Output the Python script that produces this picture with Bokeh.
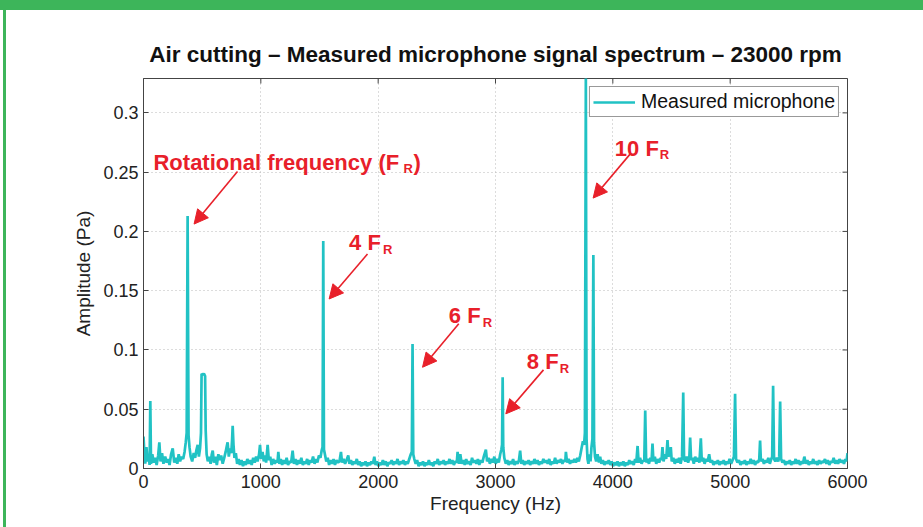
import math
from bokeh.plotting import figure
from bokeh.models import (Range1d, FixedTicker, Legend, LegendItem, Label,
                          Arrow, NormalHead, Div)
from bokeh.layouts import column, row
from bokeh.embed import file_html
from bokeh.resources import INLINE

# ---------------- data ----------------
freq_hz = [
    0, 8, 15, 25, 35, 45, 52, 58, 64, 75, 88, 100, 112, 125, 135, 145, 158, 170, 185, 198,
    210, 222, 235, 249, 262, 275, 288, 300, 312, 325, 338, 350, 360, 368, 376, 384, 392, 402, 415, 428,
    440, 452, 462, 472, 482, 490, 495, 505, 515, 525, 530, 538, 548, 560, 572, 582, 590, 600, 612, 625,
    638, 650, 662, 675, 688, 700, 710, 717, 727, 738, 748, 755, 760, 767, 775, 787, 798, 810, 822, 835,
    848, 860, 872, 885, 898, 910, 922, 935, 948, 960, 972, 985, 993, 1002, 1015, 1025, 1035, 1045, 1058, 1068,
    1080, 1092, 1105, 1118, 1130, 1142, 1149, 1158, 1170, 1182, 1195, 1208, 1220, 1232, 1245, 1258, 1271, 1282, 1295, 1308,
    1320, 1332, 1345, 1358, 1370, 1382, 1395, 1408, 1420, 1432, 1445, 1458, 1470, 1482, 1495, 1508, 1518, 1526, 1532, 1538,
    1546, 1558, 1570, 1582, 1595, 1608, 1620, 1632, 1645, 1658, 1670, 1683, 1692, 1705, 1718, 1730, 1745, 1755, 1768, 1780,
    1792, 1805, 1818, 1830, 1842, 1855, 1868, 1880, 1892, 1905, 1918, 1930, 1942, 1955, 1967, 1978, 1990, 2002, 2015, 2028,
    2040, 2052, 2065, 2078, 2090, 2102, 2115, 2128, 2140, 2152, 2165, 2178, 2190, 2202, 2215, 2228, 2240, 2252, 2265, 2278,
    2287, 2293, 2299, 2308, 2320, 2332, 2345, 2358, 2370, 2382, 2395, 2408, 2420, 2432, 2445, 2458, 2470, 2482, 2495, 2508,
    2520, 2532, 2545, 2558, 2570, 2582, 2595, 2608, 2620, 2632, 2645, 2658, 2670, 2677, 2688, 2700, 2712, 2725, 2738, 2750,
    2762, 2775, 2788, 2800, 2812, 2825, 2838, 2850, 2862, 2875, 2888, 2900, 2918, 2928, 2940, 2952, 2965, 2978, 2990, 3002,
    3015, 3028, 3040, 3050, 3056, 3061, 3066, 3075, 3088, 3100, 3112, 3125, 3138, 3150, 3162, 3175, 3188, 3200, 3210, 3220,
    3232, 3245, 3258, 3270, 3282, 3295, 3308, 3320, 3332, 3345, 3358, 3370, 3382, 3395, 3408, 3420, 3432, 3445, 3458, 3470,
    3482, 3495, 3508, 3520, 3532, 3545, 3558, 3570, 3582, 3595, 3600, 3610, 3622, 3635, 3648, 3660, 3672, 3685, 3698, 3710,
    3722, 3735, 3745, 3755, 3762, 3770, 3776, 3784, 3792, 3800, 3810, 3818, 3826, 3834, 3840, 3848, 3858, 3870, 3882, 3892,
    3902, 3915, 3928, 3940, 3952, 3965, 3978, 3990, 4002, 4015, 4028, 4040, 4052, 4065, 4078, 4090, 4102, 4115, 4128, 4140,
    4152, 4165, 4178, 4190, 4200, 4211, 4220, 4232, 4245, 4258, 4268, 4276, 4284, 4295, 4308, 4320, 4330, 4338, 4346, 4358,
    4370, 4382, 4395, 4408, 4415, 4423, 4432, 4445, 4455, 4466, 4474, 4482, 4494, 4502, 4515, 4528, 4540, 4552, 4565, 4578,
    4590, 4600, 4607, 4618, 4630, 4642, 4652, 4659, 4667, 4678, 4690, 4702, 4712, 4725, 4738, 4750, 4758, 4770, 4782, 4795,
    4808, 4821, 4832, 4845, 4858, 4870, 4882, 4895, 4908, 4920, 4932, 4945, 4958, 4970, 4982, 4995, 5008, 5020, 5032, 5042,
    5050, 5062, 5075, 5088, 5100, 5112, 5125, 5138, 5150, 5162, 5175, 5188, 5200, 5212, 5225, 5238, 5248, 5255, 5262, 5275,
    5288, 5300, 5312, 5325, 5338, 5350, 5358, 5366, 5374, 5385, 5398, 5410, 5418, 5426, 5434, 5445, 5458, 5470, 5482, 5495,
    5508, 5520, 5532, 5545, 5558, 5570, 5582, 5595, 5608, 5620, 5632, 5645, 5658, 5670, 5682, 5695, 5708, 5720, 5732, 5745,
    5758, 5770, 5782, 5795, 5808, 5820, 5832, 5845, 5858, 5870, 5882, 5895, 5908, 5920, 5932, 5945, 5958, 5970, 5982, 5992,
    6000,
]
amp_pa = [
    0.027, 0.012, 0.004, 0.018, 0.006, 0.010, 0.003, 0.057, 0.004, 0.012, 0.005, 0.009, 0.003, 0.011, 0.022, 0.006, 0.013, 0.004, 0.010, 0.005,
    0.008, 0.003, 0.012, 0.017, 0.005, 0.009, 0.004, 0.012, 0.006, 0.010, 0.008, 0.014, 0.022, 0.030, 0.213, 0.028, 0.018, 0.010, 0.006, 0.013,
    0.009, 0.016, 0.020, 0.010, 0.017, 0.030, 0.080, 0.079, 0.080, 0.078, 0.032, 0.012, 0.006, 0.010, 0.004, 0.012, 0.015, 0.005, 0.010, 0.003,
    0.012, 0.007, 0.011, 0.004, 0.009, 0.014, 0.019, 0.022, 0.010, 0.017, 0.013, 0.024, 0.036, 0.020, 0.009, 0.013, 0.004, 0.008, 0.003, 0.007,
    0.002, 0.006, 0.003, 0.008, 0.004, 0.007, 0.003, 0.009, 0.005, 0.010, 0.006, 0.012, 0.020, 0.008, 0.014, 0.006, 0.011, 0.005, 0.020, 0.007,
    0.010, 0.003, 0.008, 0.004, 0.007, 0.005, 0.014, 0.004, 0.008, 0.003, 0.007, 0.004, 0.009, 0.003, 0.006, 0.005, 0.015, 0.004, 0.008, 0.003,
    0.007, 0.004, 0.009, 0.003, 0.006, 0.004, 0.008, 0.003, 0.007, 0.005, 0.010, 0.004, 0.008, 0.005, 0.011, 0.009, 0.015, 0.018, 0.192, 0.016,
    0.012, 0.006, 0.009, 0.003, 0.007, 0.004, 0.008, 0.003, 0.007, 0.005, 0.006, 0.014, 0.005, 0.008, 0.004, 0.007, 0.011, 0.004, 0.007, 0.003,
    0.006, 0.004, 0.008, 0.003, 0.006, 0.002, 0.005, 0.003, 0.006, 0.002, 0.005, 0.003, 0.006, 0.004, 0.010, 0.003, 0.006, 0.002, 0.005, 0.003,
    0.007, 0.003, 0.006, 0.002, 0.005, 0.004, 0.007, 0.003, 0.006, 0.004, 0.008, 0.003, 0.006, 0.004, 0.007, 0.003, 0.006, 0.004, 0.008, 0.012,
    0.014, 0.105, 0.012, 0.008, 0.004, 0.007, 0.002, 0.005, 0.003, 0.006, 0.002, 0.005, 0.003, 0.007, 0.003, 0.005, 0.002, 0.006, 0.004, 0.008,
    0.003, 0.006, 0.004, 0.007, 0.003, 0.006, 0.004, 0.008, 0.004, 0.007, 0.003, 0.006, 0.005, 0.014, 0.004, 0.012, 0.004, 0.007, 0.003, 0.008,
    0.004, 0.006, 0.003, 0.009, 0.005, 0.007, 0.004, 0.008, 0.003, 0.007, 0.005, 0.010, 0.016, 0.006, 0.009, 0.004, 0.008, 0.005, 0.010, 0.004,
    0.008, 0.005, 0.012, 0.016, 0.020, 0.077, 0.018, 0.009, 0.004, 0.007, 0.003, 0.006, 0.004, 0.008, 0.003, 0.006, 0.004, 0.007, 0.015, 0.004,
    0.007, 0.003, 0.006, 0.004, 0.007, 0.003, 0.006, 0.004, 0.008, 0.004, 0.007, 0.003, 0.006, 0.004, 0.008, 0.005, 0.007, 0.004, 0.008, 0.003,
    0.006, 0.004, 0.009, 0.004, 0.007, 0.005, 0.008, 0.004, 0.007, 0.006, 0.014, 0.005, 0.008, 0.004, 0.007, 0.005, 0.008, 0.005, 0.009, 0.006,
    0.011, 0.018, 0.023, 0.020, 0.030, 0.330, 0.025, 0.008, 0.004, 0.012, 0.006, 0.018, 0.025, 0.180, 0.022, 0.010, 0.006, 0.012, 0.005, 0.010,
    0.004, 0.007, 0.003, 0.006, 0.004, 0.007, 0.003, 0.006, 0.002, 0.005, 0.003, 0.006, 0.002, 0.005, 0.003, 0.006, 0.002, 0.005, 0.003, 0.007,
    0.004, 0.006, 0.003, 0.008, 0.005, 0.019, 0.005, 0.009, 0.004, 0.007, 0.006, 0.049, 0.005, 0.008, 0.004, 0.009, 0.006, 0.021, 0.006, 0.010,
    0.004, 0.008, 0.005, 0.009, 0.007, 0.018, 0.006, 0.012, 0.008, 0.024, 0.010, 0.012, 0.018, 0.006, 0.009, 0.004, 0.008, 0.005, 0.009, 0.004,
    0.010, 0.064, 0.008, 0.006, 0.010, 0.005, 0.009, 0.026, 0.007, 0.009, 0.004, 0.010, 0.006, 0.009, 0.005, 0.0255, 0.006, 0.009, 0.004, 0.008,
    0.006, 0.012, 0.005, 0.007, 0.003, 0.006, 0.004, 0.007, 0.003, 0.006, 0.004, 0.007, 0.003, 0.006, 0.004, 0.008, 0.004, 0.007, 0.010, 0.063,
    0.008, 0.005, 0.007, 0.003, 0.006, 0.004, 0.007, 0.003, 0.006, 0.004, 0.008, 0.004, 0.007, 0.003, 0.006, 0.005, 0.008, 0.0236, 0.006, 0.008,
    0.004, 0.007, 0.005, 0.009, 0.004, 0.008, 0.010, 0.0697, 0.008, 0.006, 0.009, 0.006, 0.010, 0.0565, 0.008, 0.005, 0.007, 0.003, 0.006, 0.004,
    0.007, 0.003, 0.006, 0.004, 0.008, 0.004, 0.007, 0.003, 0.006, 0.004, 0.010, 0.004, 0.007, 0.003, 0.006, 0.004, 0.008, 0.004, 0.006, 0.003,
    0.007, 0.004, 0.006, 0.005, 0.008, 0.004, 0.007, 0.003, 0.006, 0.005, 0.009, 0.004, 0.007, 0.004, 0.008, 0.005, 0.007, 0.004, 0.008, 0.006,
    0.013,
]
x_ticks = [0, 1000, 2000, 3000, 4000, 5000, 6000]
y_ticks = [0, 0.05, 0.1, 0.15, 0.2, 0.25, 0.3]
y_tick_labels = ["0", "0.05", "0.1", "0.15", "0.2", "0.25", "0.3"]
x_range_hz = (0, 6000)
y_range_pa = (0, 0.329)
series_name = "Measured microphone"
title_text = "Air cutting \u2013 Measured microphone signal spectrum \u2013 23000 rpm"

# annotation texts with text anchor (f, a), subscript offset (px), arrow start/end (data units)
annotations = [
    dict(text="Rotational frequency (F", tail=")", tx=85, ty=0.2582, sub_dx=250, sub_dy=-5.6,
         tail_dx=260, x0=801, y0=0.2505, x1=431, y1=0.2062),
    dict(text="4 F", tail="", tx=1752, ty=0.1907, sub_dx=34, sub_dy=-6.6, tail_dx=0,
         x0=1909, y0=0.1809, x1=1582, y1=0.1430),
    dict(text="6 F", tail="", tx=2602, ty=0.1289, sub_dx=34, sub_dy=-6.6, tail_dx=0,
         x0=2687, y0=0.1222, x1=2378, y1=0.0854),
    dict(text="8 F", tail="", tx=3267, ty=0.0902, sub_dx=33, sub_dy=-7.0, tail_dx=0,
         x0=3409, y0=0.0832, x1=3088, y1=0.0461),
    dict(text="10 F", tail="", tx=4017, ty=0.2699, sub_dx=45, sub_dy=-6.4, tail_dx=0,
         x0=4147, y0=0.2652, x1=3832, y1=0.2281),
]

# ---------------- styling ----------------
FONT = "Liberation Sans"
CYAN = "#21c2c4"
RED = "#e8202a"
GREEN = "#3db55a"
GRID = "#b8b8b8"
AX = "#444444"

p = figure(width=917, height=517, x_range=Range1d(*x_range_hz), y_range=Range1d(*y_range_pa),
           output_backend="svg", toolbar_location=None,
           min_border_left=137, min_border_right=76, min_border_top=68, min_border_bottom=59,
           background_fill_color="white", border_fill_color="white", margin=(0, 0, 0, 0))

p.title.text = title_text
p.title.align = "center"
p.title.text_font = FONT
p.title.text_font_size = "22.5px"
p.title.text_font_style = "bold"
p.title.text_color = "#111111"
p.title.standoff = 24

r = p.line(freq_hz, amp_pa, line_color=CYAN, line_width=2.7)

p.outline_line_color = AX
p.outline_line_width = 1

for ax in (p.xaxis[0], p.yaxis[0]):
    ax.major_tick_in = 5
    ax.major_tick_out = 0
    ax.minor_tick_line_color = None
    ax.axis_line_color = AX
    ax.major_tick_line_color = AX
    ax.major_label_text_font = FONT
    ax.major_label_text_font_size = "18px"
    ax.major_label_text_color = "#222222"
    ax.axis_label_text_font = FONT
    ax.axis_label_text_font_size = "19px"
    ax.axis_label_text_font_style = "normal"
    ax.axis_label_text_color = "#222222"

p.xaxis.ticker = FixedTicker(ticks=x_ticks)
p.yaxis.ticker = FixedTicker(ticks=y_ticks)
p.yaxis.major_label_overrides = {t: s for t, s in zip(y_ticks, y_tick_labels)}
p.xaxis.axis_label = "Frequency (Hz)"
p.yaxis.axis_label = "Amplitude (Pa)"
p.xaxis.major_label_standoff = 6
p.yaxis.major_label_standoff = 5
p.xaxis.axis_label_standoff = 2
p.yaxis.axis_label_standoff = 6

# inward ticks on the top and right edges of the box (half of each dash is clipped away)
p.scatter(x_ticks, [y_range_pa[1]] * len(x_ticks), marker="dash", size=10, angle=math.pi / 2,
          line_color=AX, line_width=1)
p.scatter([x_range_hz[1]] * len(y_ticks), y_ticks, marker="dash", size=10,
          line_color=AX, line_width=1)

p.xgrid.ticker = FixedTicker(ticks=x_ticks)
p.ygrid.ticker = FixedTicker(ticks=y_ticks)
for g in (p.xgrid[0], p.ygrid[0]):
    g.grid_line_color = GRID
    g.grid_line_dash = "1 3"
    g.grid_line_width = 1

legend = Legend(items=[LegendItem(label=series_name, renderers=[r])], location="top_right")
legend.label_text_font = FONT
legend.label_text_font_size = "19.5px"
legend.label_text_color = "#111111"
legend.border_line_color = "#333333"
legend.border_line_width = 1
legend.background_fill_alpha = 1
legend.padding = 3
legend.margin = 8
legend.glyph_width = 42
legend.glyph_height = 18
legend.label_height = 18
legend.label_standoff = 6
legend.spacing = 0
p.add_layout(legend)

for an in annotations:
    p.add_layout(Arrow(x_start=an["x0"], y_start=an["y0"], x_end=an["x1"], y_end=an["y1"],
                       line_color=RED, line_width=1.6,
                       end=NormalHead(size=14, fill_color=RED, line_color=RED, line_width=1)))
    p.add_layout(Label(x=an["tx"], y=an["ty"], text=an["text"], text_font=FONT,
                       text_font_size="22px", text_font_style="bold", text_color=RED,
                       text_baseline="alphabetic", text_align="left"))
    p.add_layout(Label(x=an["tx"], y=an["ty"], text="R", x_offset=an["sub_dx"], y_offset=an["sub_dy"],
                       text_font=FONT, text_font_size="13px", text_font_style="bold", text_color=RED,
                       text_baseline="alphabetic", text_align="left"))
    if an["tail"]:
        p.add_layout(Label(x=an["tx"], y=an["ty"], text=an["tail"], x_offset=an["tail_dx"],
                           text_font=FONT, text_font_size="22px", text_font_style="bold",
                           text_color=RED, text_baseline="alphabetic", text_align="left"))

top_band = Div(width=923, height=10, styles={"background-color": GREEN}, margin=(0, 0, 0, 0))
left_pad = Div(width=3, height=517, styles={"background-color": "white"}, margin=(0, 0, 0, 0))
left_bar = Div(width=3, height=517, styles={"background-color": GREEN}, margin=(0, 0, 0, 0))
layout = column(top_band, row(left_pad, left_bar, p, spacing=0, margin=(0, 0, 0, 0)),
                spacing=0, margin=(0, 0, 0, 0))

open("out.html", "w").write(file_html(layout, INLINE))
